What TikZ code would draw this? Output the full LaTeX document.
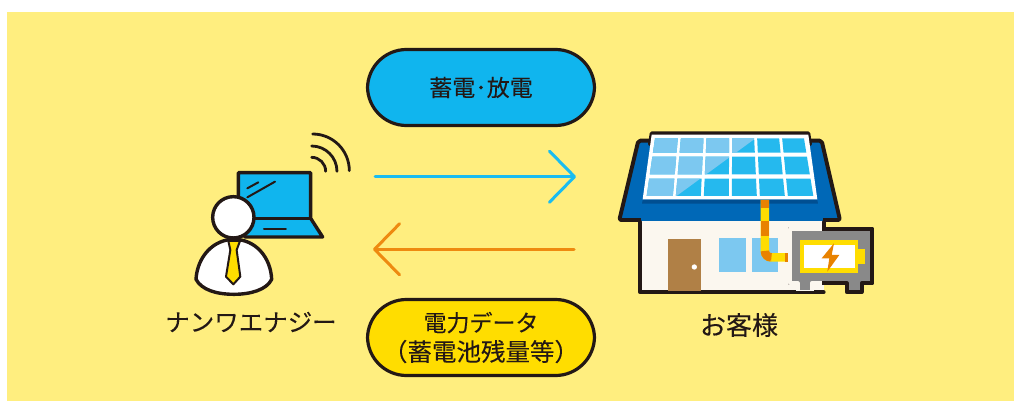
\documentclass[tikz,border=0pt]{standalone}
\usepackage{fontspec}
\setmainfont[FakeBold=0.12]{Noto Sans CJK JP}
\usetikzlibrary{arrows.meta}
\definecolor{bgyellow}{HTML}{FFEE7F}
\definecolor{inkline}{HTML}{231815}
\definecolor{skyfill}{HTML}{10B5EE}
\definecolor{goldfill}{HTML}{FFDD00}
\definecolor{roofblue}{HTML}{0068B7}
\definecolor{roofdark}{HTML}{004F92}
\definecolor{cellblue}{HTML}{25B9EE}
\definecolor{celllight}{HTML}{7CC8F0}
\definecolor{wallcream}{HTML}{FBF7EF}
\definecolor{doorbrown}{HTML}{B08046}
\definecolor{cableorange}{HTML}{E88200}
\definecolor{unitgray}{HTML}{898989}
\definecolor{arrowblue}{HTML}{1ABCF0}
\definecolor{arroworange}{HTML}{EE8A10}
\tikzset{
  pill/.style={draw=inkline,line width=3.2pt,rounded corners=39pt,minimum width=227pt,minimum height=76pt,inner sep=0pt,align=center,font=\fontsize{23}{29.5}\selectfont,text=inkline},
  caption/.style={inner sep=0pt,font=\fontsize{24.5}{28}\selectfont,text=inkline},
  link/.style={line width=3pt,line cap=round,line join=round,-{Straight Barb[length=25pt,width=51pt,round]}},
  ink/.style={draw=inkline,line width=3.4pt,line join=round,line cap=round},
  houseink/.style={draw=inkline,line width=3.9pt,line join=round,line cap=round},
  fine/.style={draw=inkline,line width=2pt,line cap=round},
  wave/.style={draw=inkline,line width=2.8pt,line cap=round},
  third/.style={x=0.3333pt,y=-0.3333pt},
  cablepart/.style={line width=8.5pt,line cap=butt}
}
\newcommand{\panelcells}[1]{%
  \foreach \rowtop/\rowbot in {55/98,110/163,176/228}{%
    \foreach \ta/\tb/\ba/\bb in {130.5/208/105.5/193,208/285/193/277,285/362/277/361,362/437/361/445,437/512/445/529,512/586.5/529/614.5}{%
      \pgfmathsetmacro{\fa}{(\rowtop-55)/173}%
      \pgfmathsetmacro{\fb}{(\rowbot-55)/173}%
      \pgfmathsetmacro{\xa}{\ta+(\ba-\ta)*\fa+4.5}%
      \pgfmathsetmacro{\xb}{\tb+(\bb-\tb)*\fa-4.5}%
      \pgfmathsetmacro{\xc}{\tb+(\bb-\tb)*\fb-4.5}%
      \pgfmathsetmacro{\xd}{\ta+(\ba-\ta)*\fb+4.5}%
      \fill[#1] (\xa,\rowtop) -- (\xb,\rowtop) -- (\xc,\rowbot) -- (\xd,\rowbot) -- cycle;
    }%
  }%
}
\begin{document}
\begin{tikzpicture}[x=1pt,y=-1pt]
\useasboundingbox (0,0) rectangle (1014,401);
\fill[white] (0,0) rectangle (1014,401);
\fill[bgyellow] (7,12) rectangle (1014,401);

% Labelled capsules
\node[pill,fill=skyfill] (charge) at (481,87.5) {蓄電･放電};
\node[pill,fill=goldfill] (data) at (481,337.5) {電力データ\\{\fontsize{24.5}{29.5}\selectfont （蓄電池残量等）}};

% Flow arrows
\coordinate (blueFrom) at (375,176.7);
\coordinate (blueTo) at (576,176.7);
\coordinate (orangeFrom) at (574,249.3);
\coordinate (orangeTo) at (373,249.3);
\draw[link,arrowblue] (blueFrom) -- (blueTo);
\draw[link,arroworange] (orangeFrom) -- (orangeTo);

% Laptop and person
\begin{scope}[shift={(160,120)},third]
  \draw[wave] (455,112) arc[start angle=-90,end angle=0,radius=42];
  \draw[wave] (455,78) arc[start angle=-90,end angle=0,radius=76];
  \draw[wave] (458,42) arc[start angle=-90,end angle=0,radius=110];
  \filldraw[ink,fill=skyfill] (235,158) -- (452,158) -- (452,295) -- (488,351) -- (255,351) -- (235,295) -- cycle;
  \draw[ink] (235,295) -- (452,295);
  \draw[fine] (262,205) -- (295,187);
  \draw[fine] (262,232) -- (345,185);
  \draw[fine] (312,328) -- (378,328);
  \filldraw[ink,fill=white] (108,478) .. controls (112,410) and (160,358) .. (222,358) .. controls (285,358) and (332,410) .. (335,478) .. controls (320,510) and (270,523) .. (222,523) .. controls (170,523) and (125,510) .. (108,478) -- cycle;
  \filldraw[draw=inkline,line width=2pt,line join=round,fill=goldfill] (205,363) -- (240,363) -- (230,390) -- (241,470) -- (220,493) -- (198,470) -- (211,390) -- cycle;
  \filldraw[ink,fill=white] (220,292) circle[radius=62];
\end{scope}
\node[caption] (vendor) at (251,322) {ナンワエナジー};

% House with solar panel and storage unit
\begin{scope}[shift={(610,120)},third]
  \filldraw[houseink,fill=roofblue,rounded corners=2pt] (85,62) -- (635,62) -- (690,300) -- (28,300) -- cycle;
  % Walls have no top line: the roof sits directly on them
  \fill[roofblue] (94,288) rectangle (638,302);
  \fill[wallcream] (91,302) rectangle (641,517);
  \draw[houseink] (91,306) -- (91,517) -- (641,517);
  \draw[houseink] (641,306) -- (641,322);
  \fill[doorbrown] (175,357) rectangle (272,512);
  \fill[white] (253,441) circle[radius=8];
  \fill[celllight] (328,353) rectangle (408,457);
  \fill[celllight] (425,353) rectangle (503,457);
  \fill[roofdark] (98,240) -- (622,240) -- (624,251) -- (96,251) -- cycle;
  \filldraw[draw=inkline,line width=3.9pt,line join=round,fill=inkline] (125,40) -- (595,40) -- (600,72) -- (120,72) -- cycle;
  \fill[white] (125,44) -- (595,44) -- (622,238) -- (98,238) -- cycle;
  \panelcells{cellblue}
  \begin{scope}
    \clip (100,40) -- (457,40) -- (190,235) -- (90,235) -- cycle;
    \panelcells{celllight}
  \end{scope}
  % Cable from the panel to the storage unit
  \draw[cablepart,goldfill,rounded corners=6pt] (465,240) -- (465,412) -- (540,412);
  \draw[cablepart,cableorange] (465,240) -- (465,265);
  \draw[cablepart,cableorange] (465,303) -- (465,347);
  \draw[cablepart,cableorange,rounded corners=6pt] (465,395) -- (465,412) -- (483,412);
  \draw[cablepart,cableorange] (525,412) -- (540,412);
  % Storage unit: outlined on the yellow, plain against the wall
  \path[save path=\unitshape] (540,326) -- (787,326) -- (787,490) -- (755,490) -- (755,516) -- (710,516) -- (710,490) -- (605,490) -- (605,516) -- (563,516) -- (563,490) -- (540,490) -- cycle;
  \filldraw[houseink,fill=unitgray,use path=\unitshape];
  \begin{scope}
    \clip (530,303) rectangle (636,511);
    \filldraw[draw=wallcream,line width=3.9pt,line join=round,fill=unitgray,use path=\unitshape];
  \end{scope}
  \fill[goldfill] (570,360) rectangle (745,460);
  \fill[goldfill] (745,388) rectangle (765,432);
  \fill[white] (583,375) rectangle (735,445);
  \fill[cableorange] (672,370) -- (635,415) -- (658,415) -- (652,455) -- (688,405) -- (665,405) -- cycle;
\end{scope}
\node[caption,font=\fontsize{26}{28}\selectfont] (client) at (739,325) {お客様};
\end{tikzpicture}
\end{document}
